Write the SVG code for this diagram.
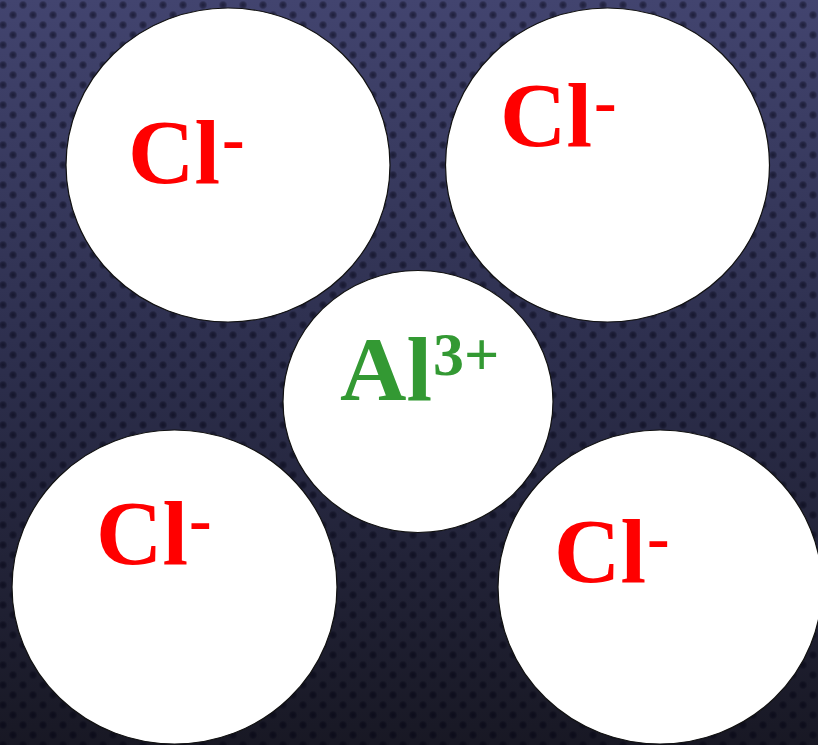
<svg xmlns="http://www.w3.org/2000/svg" width="818" height="745" viewBox="0 0 818 745">
<defs>
<linearGradient id="bg" x1="0" y1="0" x2="0" y2="1">
<stop offset="0" stop-color="#42446f"/>
<stop offset="0.5" stop-color="#2c2e4c"/>
<stop offset="1" stop-color="#181824"/>
</linearGradient>
<radialGradient id="dotg">
<stop offset="0" stop-color="#000010" stop-opacity="0.55"/>
<stop offset="0.6" stop-color="#000010" stop-opacity="0.35"/>
<stop offset="1" stop-color="#000010" stop-opacity="0"/>
</radialGradient>
<pattern id="dots" x="0" y="0" width="20" height="20" patternUnits="userSpaceOnUse">
<circle cx="3" cy="5" r="4.5" fill="url(#dotg)"/>
<circle cx="13" cy="15" r="4.5" fill="url(#dotg)"/>
<circle cx="23" cy="5" r="4.5" fill="url(#dotg)"/>
<circle cx="-7" cy="15" r="4.5" fill="url(#dotg)"/>
</pattern>
</defs>
<style>
.ion{fill:#ffffff;stroke:#111111;stroke-width:1.2}
.cl{font-family:"Liberation Serif","Times New Roman",serif;font-weight:bold;fill:#ff0000;font-size:92px}
.sup{font-family:"Liberation Serif","Times New Roman",serif;font-weight:bold;fill:#ff0000;font-size:68px}
.al{font-family:"Liberation Serif","Times New Roman",serif;font-weight:bold;fill:#339933}
</style>
<rect width="818" height="745" fill="url(#bg)"/>
<rect width="818" height="745" fill="url(#dots)"/>
<g id="connectors"/>
<g id="cl-top-left">
<ellipse class="ion" cx="228" cy="165" rx="162" ry="157"/>
<text class="cl" x="128" y="183">Cl</text>
<text class="sup" x="222" y="161">-</text>
</g>
<g id="cl-top-right">
<ellipse class="ion" cx="607.5" cy="165" rx="162" ry="157"/>
<text class="cl" x="500" y="146">Cl</text>
<text class="sup" x="594" y="124">-</text>
</g>
<g id="al-center">
<ellipse class="ion" cx="418" cy="401.5" rx="135" ry="131"/>
<text class="al" x="340" y="400" font-size="92">Al</text>
<text class="al" x="433" y="375" font-size="62">3+</text>
</g>
<g id="cl-bottom-left">
<ellipse class="ion" cx="174.5" cy="587" rx="162.5" ry="157"/>
<text class="cl" x="96" y="564">Cl</text>
<text class="sup" x="189" y="542">-</text>
</g>
<g id="cl-bottom-right">
<ellipse class="ion" cx="660" cy="587" rx="162" ry="157"/>
<text class="cl" x="554" y="582">Cl</text>
<text class="sup" x="647" y="560">-</text>
</g>
</svg>
